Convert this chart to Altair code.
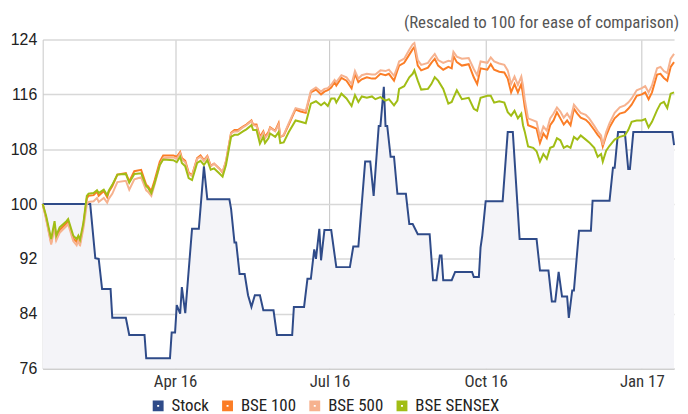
import altair as alt
import pandas as pd

START = "2016-01-14"

# Stock (days since START, rescaled value)
stock_day = [0, 28, 31, 33, 35, 40, 41, 49, 51, 60, 61, 75, 76, 78, 79, 81, 82, 84, 88, 92,
             95, 97, 110, 111, 113, 114, 116, 119, 121, 123, 125, 128, 130, 136, 138, 147, 148,
             154, 156, 158, 160, 161, 163, 164, 166, 170, 173, 181, 183, 186, 190, 193, 195,
             198, 199, 201, 202, 203, 205, 207, 209, 214, 216, 218, 221, 228, 230, 232, 234,
             235, 236, 241, 243, 253, 254, 257, 258, 259, 261, 271, 274, 277, 281, 291, 293,
             298, 300, 302, 304, 306, 309, 310, 312, 313, 316, 323, 324, 334, 336, 337, 339,
             343, 345, 346, 348, 371, 372]
stock_val = [100, 100, 92.1, 92.0, 87.6, 87.6, 83.4, 83.4, 80.9, 80.9, 77.5, 77.5, 81.25, 81.25,
             85.25, 84.0, 87.9, 84.1, 96.4, 96.4, 105.5, 100.7, 100.7, 99.3, 94.4, 94.4, 89.8,
             89.8, 86.7, 85.0, 86.7, 86.7, 84.5, 84.5, 80.9, 80.9, 85.0, 85.0, 89.1, 89.1, 93.4,
             92.0, 96.4, 91.8, 96.2, 96.2, 90.8, 90.8, 93.8, 93.8, 106.2, 106.2, 101.2, 111.4,
             111.4, 117.1, 111.4, 111.4, 106.9, 106.9, 101.5, 101.5, 97.1, 97.1, 95.6, 95.6,
             88.9, 88.9, 92.5, 92.5, 88.9, 88.9, 90.1, 90.1, 89.35, 89.35, 93.7, 95.4, 100.4,
             100.4, 110.5, 110.5, 94.9, 94.9, 90.3, 90.3, 85.8, 85.8, 90.1, 86.5, 86.5, 83.4,
             87.4, 87.4, 96.1, 96.1, 100.5, 100.5, 105.3, 105.3, 110.5, 110.5, 105.1, 105.1,
             110.5, 110.5, 108.6]

# Indices (days since START)
idx_day = [0, 2, 5, 7, 8, 10, 14, 15, 18, 20, 21, 22, 24, 26, 27, 30, 32, 33, 36, 38, 39, 41,
           44, 49, 51, 54, 58, 61, 62, 64, 66, 69, 71, 77, 79, 81, 82, 84, 86, 88, 91, 93, 95,
           97, 99, 101, 104, 106, 108, 111, 113, 115, 118, 120, 123, 124, 126, 128, 130, 131,
           133, 134, 137, 139, 140, 142, 145, 149, 152, 155, 158, 161, 164, 166, 168, 170, 172,
           173, 176, 179, 182, 184, 186, 188, 191, 194, 196, 199, 202, 204, 207, 209, 210, 213,
           216, 218, 219, 221, 223, 227, 229, 231, 233, 236, 239, 241, 242, 244, 247, 251, 254,
           256, 258, 262, 264, 266, 269, 272, 274, 276, 278, 280, 282, 283, 284, 286, 289, 291,
           293, 295, 297, 299, 301, 303, 305, 307, 309, 311, 313, 315, 317, 320, 322, 325, 327,
           329, 330, 332, 334, 337, 340, 343, 345, 347, 350, 353, 355, 357, 359, 362, 364, 366,
           368, 370, 372]
sensex = [100, 98.3, 94.9, 97.5, 95.4, 96.6, 97.5, 97.8, 95.4, 94.9, 95.4, 94.8, 97.3, 101.2,
          101.5, 101.6, 102.0, 101.6, 102.1, 101.3, 102.0, 102.8, 104.3, 104.4, 103.1, 104.4,
          104.5, 102.6, 102.4, 101.6, 103.1, 105.7, 106.5, 106.4, 106.1, 106.9, 106.0, 105.5,
          103.8, 103.5, 106.0, 106.3, 105.7, 106.4, 105.0, 105.2, 104.5, 104.0, 105.7, 109.8,
          110.1, 110.1, 110.6, 110.9, 111.5, 110.8, 110.8, 108.8, 109.8, 108.9, 109.6, 110.3,
          109.8, 110.5, 108.9, 109.0, 110.5, 112.2, 112.0, 111.8, 114.65, 115.0, 114.4, 114.8,
          114.3, 115.4, 115.4, 114.8, 116.1, 115.4, 114.3, 115.9, 114.9, 115.7, 115.5, 115.7,
          115.3, 115.6, 115.1, 115.3, 114.4, 115.1, 116.8, 117.2, 118.5, 119.0, 119.5, 118.0,
          116.7, 116.8, 117.5, 118.5, 118.0, 116.8, 114.65, 114.9, 115.5, 116.6, 115.3, 115.5,
          113.9, 113.6, 115.5, 115.8, 115.8, 114.8, 115.0, 114.8, 113.4, 112.9, 113.6, 112.5,
          113.2, 111.5, 110.6, 108.4, 108.2, 107.7, 106.2, 107.3, 106.6, 108.2, 108.4, 109.6,
          109.3, 108.2, 108.5, 108.2, 109.8, 109.4, 110.0, 109.4, 109.0, 108.2, 106.9, 107.3,
          106.2, 107.8, 108.5, 109.4, 109.8, 110.0, 110.8, 112.0, 112.2, 112.2, 112.4, 111.2,
          112.0, 113.7, 114.65, 114.9, 114.0, 116.1, 116.3]
bse100 = [100, 98.0, 94.4, 97.0, 95.0, 96.2, 97.2, 97.5, 95.0, 94.5, 95.0, 94.3, 97.0, 100.8,
          101.2, 101.3, 101.8, 101.2, 101.9, 101.0, 101.8, 102.6, 104.3, 104.5, 103.3, 104.8,
          105.0, 102.8, 102.6, 101.9, 103.5, 106.2, 107.1, 107.1, 106.9, 107.6, 106.7, 106.3,
          104.6, 104.2, 106.7, 107.1, 106.4, 107.0, 105.6, 105.9, 105.2, 104.6, 106.2, 110.4,
          110.8, 110.8, 111.3, 111.6, 112.2, 111.6, 111.6, 109.8, 110.6, 109.8, 110.5, 111.2,
          110.7, 111.8, 109.8, 110.0, 111.6, 113.8, 113.5, 113.3, 116.3, 116.7, 116.0, 116.4,
          116.6, 117.0, 117.8, 117.3, 118.4, 118.0, 116.9, 119.0, 117.8, 118.2, 118.5, 118.3,
          118.3, 119.0, 118.8, 119.0, 118.0, 119.5, 120.2, 120.6, 121.8, 122.6, 122.9, 120.2,
          119.5, 119.9, 120.6, 121.2, 120.2, 119.6, 120.0, 119.8, 121.6, 120.7, 120.2, 120.4,
          118.5, 117.5, 119.8, 119.6, 120.4, 119.6, 119.3, 119.2, 118.3, 116.3, 117.5, 116.3,
          117.5, 116.0, 114.2, 111.5, 111.2, 111.0, 108.9, 110.3, 109.6, 111.5, 112.2, 113.4,
          112.5, 111.6, 112.2, 111.5, 113.9, 113.2, 112.6, 112.3, 111.8, 110.8, 110.1, 109.5,
          108.4, 110.0, 111.2, 112.5, 113.2, 113.4, 113.9, 114.5, 115.8, 116.0, 116.3, 115.3,
          116.3, 118.9, 119.0, 118.4, 118.0, 120.0, 120.7]
bse500 = [100, 97.8, 94.1, 96.6, 94.7, 95.8, 96.8, 97.1, 94.6, 94.0, 94.7, 93.9, 96.5, 100.0,
          100.3, 100.4, 100.9, 100.3, 100.9, 100.2, 100.8, 101.5, 103.2, 103.4, 102.1, 103.6,
          103.9, 102.0, 101.8, 101.2, 102.9, 105.7, 106.7, 106.8, 106.6, 107.4, 106.5, 106.1,
          104.4, 104.1, 106.6, 106.9, 106.3, 106.9, 105.5, 105.9, 105.2, 104.7, 106.3, 110.3,
          110.6, 110.6, 111.2, 111.5, 112.1, 111.5, 111.4, 109.5, 110.4, 109.6, 110.3, 111.1,
          110.6, 111.6, 109.8, 110.1, 111.8, 114.0, 113.8, 113.6, 116.5, 117.0, 116.4, 116.8,
          116.9, 117.4, 118.1, 117.8, 118.8, 118.5, 117.5, 119.4, 118.3, 118.8, 119.0, 118.9,
          118.9, 119.5, 119.4, 119.6, 118.7, 120.0, 120.8, 121.2, 122.5, 123.3, 123.5, 121.0,
          120.3, 120.6, 121.3, 121.9, 121.0, 120.6, 120.9, 120.8, 122.2, 121.5, 121.2, 121.3,
          119.7, 118.8, 120.8, 120.6, 121.4, 120.8, 120.5, 120.3, 119.5, 117.5, 118.6, 117.4,
          118.6, 117.3, 115.3, 112.5, 112.2, 112.0, 109.8, 111.3, 110.7, 112.5, 113.2, 114.1,
          113.5, 112.6, 113.2, 112.4, 114.5, 113.9, 113.3, 113.0, 112.5, 111.4, 110.6, 110.0,
          108.6, 110.5, 111.8, 113.3, 114.1, 114.4, 114.8, 115.4, 116.6, 116.9, 117.2, 116.3,
          117.3, 119.8, 120.0, 119.4, 119.1, 121.2, 121.9]

series_names = ["Stock", "BSE 100", "BSE 500", "BSE SENSEX"]
series_colors = ["#2f4b89", "#fb7d26", "#f6b28f", "#a1bd15"]
y_ticks = [76, 84, 92, 100, 108, 116, 124]

start = pd.Timestamp(START)


def to_dates(days):
    return [start + pd.Timedelta(days=d) for d in days]


stock_df = pd.DataFrame({"date": to_dates(stock_day), "value": stock_val, "series": "Stock"})
frames = [stock_df]
for name, vals in [("BSE 100", bse100), ("BSE 500", bse500), ("BSE SENSEX", sensex)]:
    frames.append(pd.DataFrame({"date": to_dates(idx_day), "value": vals, "series": name}))
df = pd.concat(frames, ignore_index=True)

NARROW = "Liberation Sans Narrow, Arial Narrow, Roboto Condensed, Liberation Sans, sans-serif"
REGULAR = "Liberation Sans, Arial, Helvetica, sans-serif"

x_enc = alt.X(
    "date:T",
    scale=alt.Scale(domain=[alt.DateTime(year=2016, month=1, date=14),
                            alt.DateTime(year=2017, month=1, date=20)]),
    axis=alt.Axis(
        values=[alt.DateTime(year=2016, month=4, date=1),
                alt.DateTime(year=2016, month=7, date=1),
                alt.DateTime(year=2016, month=10, date=1),
                alt.DateTime(year=2017, month=1, date=1)],
        format="%b %y", title=None, ticks=False, labelFont=NARROW, labelFontSize=17,
        labelColor="#333333", labelPadding=5, domainColor="#c0c0c0", gridColor="#c4c4c4",
        gridWidth=1, labelFlush=False,
    ),
)
y_enc = alt.Y(
    "value:Q",
    scale=alt.Scale(domain=[76, 124], nice=False, zero=False),
    axis=alt.Axis(values=y_ticks, title=None, ticks=False, labelFont=REGULAR, labelFontSize=16,
                  labelColor="#222222", labelPadding=6, domainColor="#c8c8c8",
                  gridColor="#d8d8d8", gridWidth=1.5),
)
color_enc = alt.Color(
    "series:N",
    scale=alt.Scale(domain=series_names, range=series_colors),
    legend=alt.Legend(title=None, orient="none", direction="horizontal", legendX=108,
                      legendY=361, symbolType="square", symbolSize=42, symbolStrokeWidth=4.5,
                      labelFont=NARROW, labelFontSize=17, labelColor="#222222",
                      columnPadding=6, labelOffset=5),
)

base = alt.Chart(df)

area = base.transform_filter(alt.datum.series == "Stock").mark_area(
    color="#f4f4f8"
).encode(x=x_enc, y=y_enc, y2=alt.datum(76))

layers = [area]
for name in series_names:
    layers.append(
        base.transform_filter(alt.datum.series == name)
        .mark_line(strokeWidth=2, interpolate="linear")
        .encode(x=x_enc, y=y_enc, color=color_enc)
    )

chart = alt.layer(*layers).properties(
    width=637,
    height=332,
    autosize=alt.AutoSizeParams(type="none"),
    padding={"left": 35, "top": 30, "right": 6, "bottom": 44},
    title=alt.TitleParams(
        "(Rescaled to 100 for ease of comparison)", anchor="end", font=NARROW, fontSize=17,
        fontWeight="normal", color="#555555", offset=9, dx=1, dy=9,
    ),
).configure_view(stroke=None)

chart.save("out.html", embed_options={"renderer": "svg", "actions": False})
